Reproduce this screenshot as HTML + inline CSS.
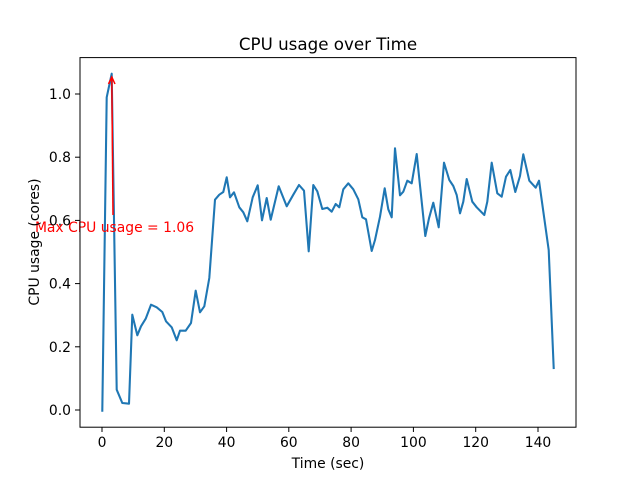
<!DOCTYPE html>
<html><head><meta charset="utf-8"><style>body{margin:0;background:#fff}svg{display:block}text{font-family:"DejaVu Sans","Liberation Sans",sans-serif;}</style></head><body>
<svg width="640" height="480" viewBox="0 0 640 480">
<rect width="640" height="480" fill="#fff"/>
<polyline fill="none" stroke="#1f77b4" stroke-width="2.08" stroke-linejoin="round" stroke-linecap="square" points="102.3,410.7 106.7,97.3 111.7,73.7 116.7,389.7 122.3,403 129,403.7 132.3,314.7 137.3,335.3 141,326.3 145.7,318.7 151,304.7 156.7,307.3 162.3,312 166,321.3 171.7,327.3 176.7,340.3 180,330.7 185.7,330.7 191,323 195.7,290.7 200,312.3 204.3,306.3 209.3,278 215,199.7 219.3,194.7 223.3,192 226.7,177.3 230,197.3 234,192.3 239.3,207.3 243.3,212.3 247.3,221.3 252.7,197.3 257.7,185.3 262,220.3 266.7,198 270.7,219.7 278.7,186.3 286.7,206.3 293.3,194.7 299,185 304,190.7 308.7,251.3 313.3,185 317.3,191.3 322.3,209 327.3,207.7 331.7,211.7 335.7,204 339.3,207.3 343.3,189.3 348.3,183.3 353.3,189.3 358.3,199.3 362.3,217.3 366,219.3 371.7,251 375,240 380,216.7 384.7,188.3 388.3,209.3 391.7,217.3 395,148.3 400,195.3 403.3,191.7 407.3,180.7 411.7,183.3 416.7,154 425.3,236 429,218.3 433.3,202.7 438.7,227.3 444,162.7 449.3,180 453.3,186 456.7,195 460,213.3 463.3,201.7 466.7,179 472.3,201.7 476.7,207.3 484.3,215 487.3,201.7 491.7,162.7 497.3,193.3 501.7,196.7 506,176.7 510.3,170 515.3,192 520,176 523.3,154.3 529.3,180.7 535.7,187.7 539,180.7 548.7,250 553.7,368"/>
<line x1="113" y1="215" x2="111.8" y2="78" stroke="red" stroke-width="1.5"/>
<polyline points="108.5,84 111.8,77 115,84" fill="none" stroke="red" stroke-width="1.5"/>
<text x="114.5" y="232" fill="red" font-size="13.9" text-anchor="middle">Max CPU usage = 1.06</text>
<rect x="80" y="57.6" width="496" height="369.6" fill="none" stroke="#000" stroke-width="1"/>
<g stroke="#000">
<line x1="102" y1="427" x2="102" y2="432"/><line x1="164.3" y1="427" x2="164.3" y2="432"/><line x1="226.6" y1="427" x2="226.6" y2="432"/><line x1="288.8" y1="427" x2="288.8" y2="432"/><line x1="351.1" y1="427" x2="351.1" y2="432"/><line x1="413.4" y1="427" x2="413.4" y2="432"/><line x1="475.7" y1="427" x2="475.7" y2="432"/><line x1="538" y1="427" x2="538" y2="432"/>
<line x1="75" y1="410" x2="80" y2="410"/><line x1="75" y1="346.8" x2="80" y2="346.8"/><line x1="75" y1="283.6" x2="80" y2="283.6"/><line x1="75" y1="220.4" x2="80" y2="220.4"/><line x1="75" y1="157.2" x2="80" y2="157.2"/><line x1="75" y1="94" x2="80" y2="94"/>
</g>
<g font-size="13.9" text-anchor="middle" fill="#000">
<text x="102" y="447">0</text><text x="164.3" y="447">20</text><text x="226.6" y="447">40</text><text x="288.8" y="447">60</text><text x="351.1" y="447">80</text><text x="413.4" y="447">100</text><text x="475.7" y="447">120</text><text x="538" y="447">140</text>
</g>
<g font-size="13.9" text-anchor="end" fill="#000">
<text x="71" y="415">0.0</text><text x="71" y="351.8">0.2</text><text x="71" y="288.6">0.4</text><text x="71" y="225.4">0.6</text><text x="71" y="162.2">0.8</text><text x="71" y="99">1.0</text>
</g>
<text x="328" y="468" font-size="13.9" text-anchor="middle">Time (sec)</text>
<text transform="translate(39,242) rotate(-90)" font-size="13.9" text-anchor="middle">CPU usage (cores)</text>
<text x="328" y="50" font-size="16.7" text-anchor="middle">CPU usage over Time</text>
</svg>
</body></html>
